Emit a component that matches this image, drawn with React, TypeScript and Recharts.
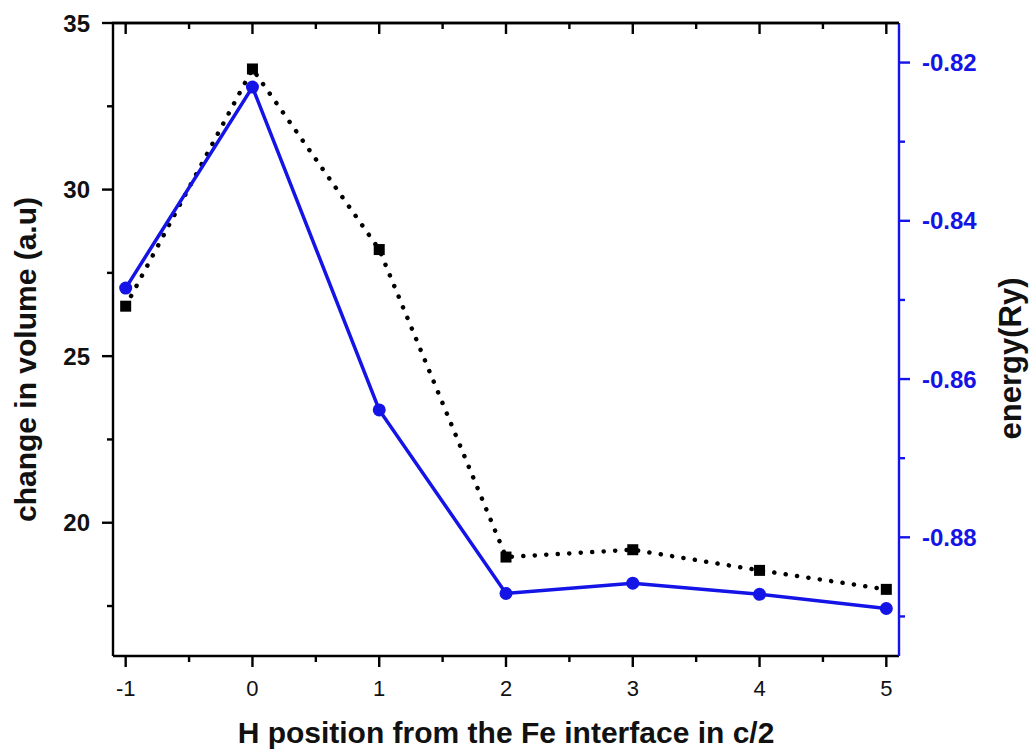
import React from 'react';
import { LineChart, Line, XAxis, YAxis, Label, CartesianGrid } from 'recharts';

const positions = [-1, 0, 1, 2, 3, 4, 5];
const volumeChange = [26.5, 33.62, 28.2, 18.97, 19.19, 18.57, 18.0];
const energyRy = [-0.8485, -0.8231, -0.8639, -0.8871, -0.8858, -0.8872, -0.889];

const xTicks = [-1, -0.5, 0, 0.5, 1, 1.5, 2, 2.5, 3, 3.5, 4, 4.5, 5];
const volumeTicks = [17.5, 20, 22.5, 25, 27.5, 30, 32.5, 35];
const energyTicks = [-0.89, -0.88, -0.87, -0.86, -0.85, -0.84, -0.83, -0.82];
const volumeDomain = [16, 35];

const data = positions.map((x, i) => ({ x, volume: volumeChange[i], energy: energyRy[i] }));

// layout
const CHART_W = 1031;
const CHART_H = 755;
const M_TOP = 23;
const LEFT_W = 113;
const RIGHT_W = 132;
const BOTTOM_H = 99;

const FONT = '"Liberation Sans", Arial, Helvetica, sans-serif';
const BLUE = '#1414e6';
const MAJOR = 11;
const MINOR = 6;
const AXW = 2.4;

const BottomTick = (props: any) => {
  const { x, y, payload } = props;
  const v = payload.value;
  const major = Number.isInteger(v);
  const len = major ? MAJOR : MINOR;
  return (
    <g>
      <line x1={x} x2={x} y1={y} y2={y + len} stroke="#000" strokeWidth={AXW} />
      <path d={`M${x},${M_TOP}L${x},${M_TOP + len}`} stroke="#000" strokeWidth={AXW} fill="none" />
      {major && (
        <text x={x} y={y + 40} textAnchor="middle" fontSize={22} fontFamily={FONT} fill="#111">
          {String(v)}
        </text>
      )}
    </g>
  );
};

const LeftTick = (props: any) => {
  const { x, y, payload } = props;
  const v = payload.value;
  const major = v % 5 === 0;
  const isTop = Math.abs(v - volumeDomain[1]) < 1e-9;
  return (
    <g>
      {isTop && (
        <path d={`M${x - AXW / 2},${y}L${CHART_W - RIGHT_W},${y}`} stroke="#000" strokeWidth={AXW} fill="none" />
      )}
      <line x1={x - (major ? MAJOR : MINOR)} x2={x} y1={y} y2={y} stroke="#000" strokeWidth={AXW} />
      {major && (
        <text x={x - 23} y={y} dy="0.36em" textAnchor="end" fontSize={24} fontWeight="bold" fontFamily={FONT} fill="#111">
          {String(v)}
        </text>
      )}
    </g>
  );
};

const RightTick = (props: any) => {
  const { x, y, payload } = props;
  const v = payload.value;
  const major = Math.round(Math.abs(v) * 100) % 2 === 0;
  return (
    <g>
      <line x1={x} x2={x + (major ? MAJOR : MINOR)} y1={y} y2={y} stroke={BLUE} strokeWidth={AXW} />
      {major && (
        <text x={x + 23} y={y} dy="0.36em" textAnchor="start" fontSize={24} fontWeight="bold" fontFamily={FONT} fill={BLUE}>
          {v.toFixed(2)}
        </text>
      )}
    </g>
  );
};

const XTitle = (props: any) => {
  const vb = props.viewBox || { x: LEFT_W, y: CHART_H - BOTTOM_H, width: CHART_W - LEFT_W - RIGHT_W, height: BOTTOM_H };
  return (
    <text x={vb.x + vb.width / 2} y={vb.y + 87} textAnchor="middle" fontSize={30} fontWeight="bold" fontFamily={FONT} fill="#111">
      H position from the Fe interface in c/2
    </text>
  );
};

const LeftTitle = (props: any) => {
  const vb = props.viewBox || { x: 0, y: M_TOP, width: LEFT_W, height: CHART_H - M_TOP - BOTTOM_H };
  const cx = vb.x + 36;
  const cy = vb.y + vb.height / 2 + 20;
  return (
    <text x={cx} y={cy} transform={`rotate(-90, ${cx}, ${cy})`} textAnchor="middle" fontSize={30} fontWeight="bold" fontFamily={FONT} fill="#111">
      change in volume (a.u)
    </text>
  );
};

const RightTitle = (props: any) => {
  const vb = props.viewBox || { x: CHART_W - RIGHT_W, y: M_TOP, width: RIGHT_W, height: CHART_H - M_TOP - BOTTOM_H };
  const cx = vb.x + 122;
  const cy = vb.y + vb.height / 2 + 19;
  return (
    <text x={cx} y={cy} transform={`rotate(-90, ${cx}, ${cy})`} textAnchor="middle" fontSize={31} fontWeight="bold" fontFamily={FONT} fill="#111">
      energy(Ry)
    </text>
  );
};

const SquareDot = (props: any) => {
  const { cx, cy, index } = props;
  if (cx == null || cy == null) return <g key={index} />;
  return <rect key={index} x={cx - 5.5} y={cy - 5.5} width={11} height={11} fill="#000" />;
};

export default function App() {
  return (
    <div style={{ position: 'absolute', left: 0, top: 0, width: CHART_W, height: CHART_H, background: '#fff' }}>
      <LineChart width={CHART_W} height={CHART_H} data={data} margin={{ top: M_TOP, right: 0, bottom: 0, left: 0 }}>
        <CartesianGrid
          xAxisId="b"
          yAxisId="v"
          vertical={false}
          horizontalPoints={[M_TOP]}
          stroke="#000"
          strokeWidth={AXW}
          strokeDasharray=""
        />
        <XAxis
          xAxisId="b"
          dataKey="x"
          type="number"
          domain={[-1.1, 5.1]}
          ticks={xTicks}
          interval={0}
          tickLine={false}
          tickSize={0}
          tickMargin={0}
          height={BOTTOM_H}
          axisLine={{ stroke: '#000', strokeWidth: AXW }}
          tick={BottomTick}
          allowDataOverflow
        >
          <Label content={XTitle} />
        </XAxis>
        <YAxis
          yAxisId="v"
          type="number"
          domain={volumeDomain}
          ticks={volumeTicks}
          interval={0}
          tickLine={false}
          tickSize={0}
          tickMargin={0}
          width={LEFT_W}
          axisLine={{ stroke: '#000', strokeWidth: AXW }}
          tick={LeftTick}
          allowDataOverflow
        >
          <Label content={LeftTitle} />
        </YAxis>
        <YAxis
          yAxisId="e"
          orientation="right"
          type="number"
          domain={[-0.895, -0.815]}
          ticks={energyTicks}
          interval={0}
          tickLine={false}
          tickSize={0}
          tickMargin={0}
          width={RIGHT_W}
          axisLine={{ stroke: BLUE, strokeWidth: AXW }}
          tick={RightTick}
          allowDataOverflow
        >
          <Label content={RightTitle} />
        </YAxis>
        <Line
          xAxisId="b"
          yAxisId="v"
          dataKey="volume"
          stroke="#000"
          strokeWidth={4.5}
          strokeDasharray="0.1 11.4"
          strokeLinecap="round"
          dot={SquareDot}
          activeDot={false}
          isAnimationActive={false}
        />
        <Line
          xAxisId="b"
          yAxisId="e"
          dataKey="energy"
          stroke={BLUE}
          strokeWidth={3.5}
          dot={{ r: 6.5, fill: BLUE, stroke: BLUE, strokeWidth: 0 }}
          activeDot={false}
          isAnimationActive={false}
        />
      </LineChart>
    </div>
  );
}
